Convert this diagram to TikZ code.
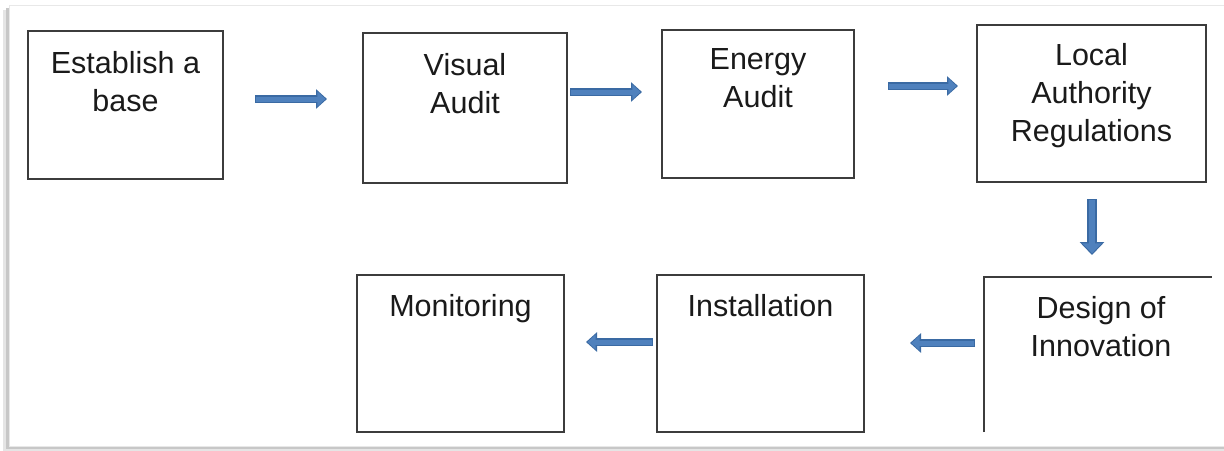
\documentclass[tikz,border=0pt]{standalone}
\usepackage{fontspec}
\setmainfont{Liberation Sans}
\usetikzlibrary{calc,arrows.meta}
\definecolor{arrowfill}{HTML}{4F81BD}
\definecolor{arrowdark}{HTML}{3A6AA3}
\definecolor{boxline}{HTML}{3C3C3C}
\definecolor{txt}{HTML}{1A1A1A}
\begin{document}
\begin{tikzpicture}[x=1pt,y=-1pt,
  box/.style={draw=boxline, line width=1.5pt, inner sep=0pt, outer sep=0pt, fill=white},
  openbox/.style={inner sep=0pt, outer sep=0pt},
  lbl/.style={anchor=north, align=center, inner sep=0pt, text=txt,
              font=\fontsize{30.5}{38}\selectfont},
  barrow/.style={line width=8pt, draw=arrowdark, -{Triangle[length=11pt,width=19pt]},
     postaction={draw=arrowfill, line width=5pt, -{Triangle[length=8pt,width=14.5pt]},
                 shorten >=1.6pt, shorten <=1.3pt}},
  bdown/.style={line width=9.5pt, draw=arrowdark, -{Triangle[length=13pt,width=24pt]},
     postaction={draw=arrowfill, line width=6.5pt, -{Triangle[length=10pt,width=19pt]},
                 shorten >=1.7pt, shorten <=1.3pt}}
]
\useasboundingbox (0,0) rectangle (1224,450);
% frame with shadow
\fill[black!10] (3,10) rectangle (1240,451);
\fill[black!22] (6,8) rectangle (1240,448.5);
\filldraw[fill=white, draw=black!9, line width=1pt] (9.5,5.5) rectangle (1240,446);

% boxes
\node[box, minimum width=195pt, minimum height=148pt] (b1) at (125.5,105) {};
\node[box, minimum width=204pt, minimum height=150pt] (b2) at (465,108) {};
\node[box, minimum width=192pt, minimum height=148pt] (b3) at (758,104) {};
\node[box, minimum width=229pt, minimum height=157pt] (b4) at (1091.5,103.5) {};
\node[openbox, minimum width=234pt, minimum height=155pt] (b5) at (1101,354.5) {};
\draw[draw=boxline, line width=1.5pt] (b5.south west) -- (b5.north west) -- ([xshift=-6pt]b5.north east);
\node[box, minimum width=207pt, minimum height=157pt] (b6) at (760.5,353.5) {};
\node[box, minimum width=207pt, minimum height=157pt] (b7) at (460.5,353.5) {};

% labels
\node[lbl] (t1) at ([yshift=-20pt]b1.north) {Establish a\\base};
\node[lbl] (t2) at ([yshift=-20pt]b2.north) {Visual\\Audit};
\node[lbl] (t3) at ([yshift=-18pt]b3.north) {Energy\\Audit};
\node[lbl] (t4) at ([yshift=-18pt]b4.north) {Local\\Authority\\Regulations};
\node[lbl] (t5) at ([yshift=-19pt]b5.north) {Design of\\Innovation};
\node[lbl] (t6) at ([yshift=-19pt]b6.north) {Installation};
\node[lbl] (t7) at ([yshift=-19pt]b7.north) {Monitoring};

% arrows
\draw[barrow] ($(b1.east)+(32,-6)$) -- ($(b2.west)+(-36,-9)$);
\draw[barrow] ($(b2.east)+(3,-16)$) -- ($(b3.west)+(-20,-12)$);
\draw[barrow] ($(b3.east)+(34,-18)$) -- ($(b4.west)+(-19,-17.5)$);
\draw[bdown] ($(b4.south)+(0.5,17)$) -- ($(b5.north)+(-9,-22)$);
\draw[barrow] ($(b5.west)+(-9,-11.5)$) -- ($(b6.east)+(46,-10.5)$);
\draw[barrow] ($(b6.west)+(-4,-11.5)$) -- ($(b7.east)+(22,-11.5)$);
\end{tikzpicture}
\end{document}
